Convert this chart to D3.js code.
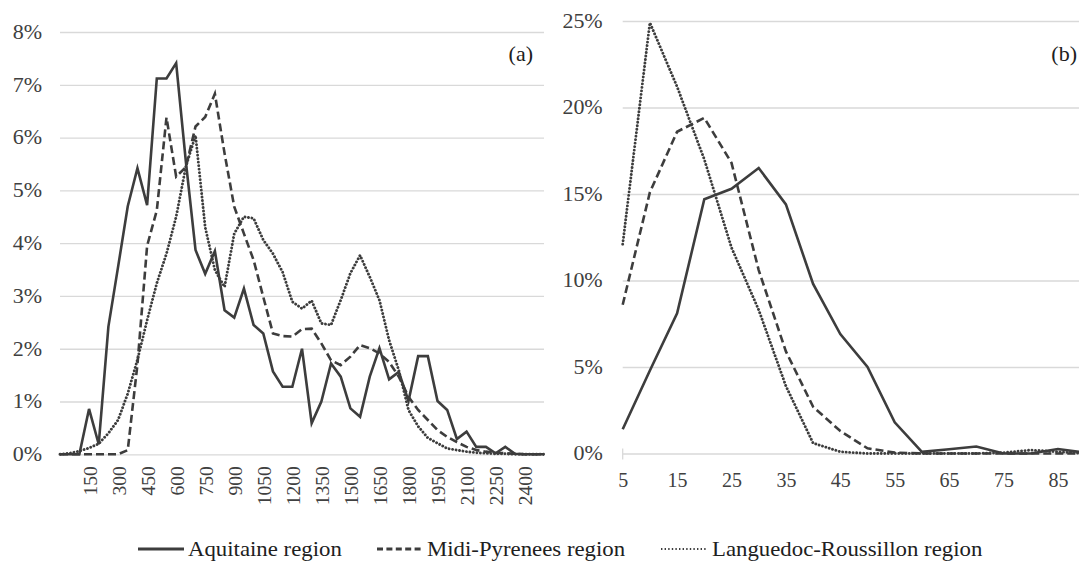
<!DOCTYPE html>
<html>
<head>
<meta charset="utf-8">
<script src="https://cdn.jsdelivr.net/npm/d3@7"></script>
<style>
  body { margin: 0; background: #fff; }
  svg { display: block; }
</style>
</head>
<body>
<svg id="chart" width="1079" height="563"></svg>
<script>
// ---- panel (a): distribution by category (step 50)
var catsA = [0, 50, 100, 150, 200, 250, 300, 350, 400, 450, 500, 550, 600, 650, 700, 750, 800, 850, 900, 950,
  1000, 1050, 1100, 1150, 1200, 1250, 1300, 1350, 1400, 1450, 1500, 1550, 1600, 1650, 1700, 1750, 1800, 1850,
  1900, 1950, 2000, 2050, 2100, 2150, 2200, 2250, 2300, 2350, 2400, 2450, 2500];
var ticksA = [150, 300, 450, 600, 750, 900, 1050, 1200, 1350, 1500, 1650, 1800, 1950, 2100, 2250, 2400];
var yTicksA = [0, 0.01, 0.02, 0.03, 0.04, 0.05, 0.06, 0.07, 0.08];

var aquitaineA = [0, 0, 0, 0.86, 0.19, 2.42, 3.55, 4.7, 5.42, 4.72, 7.12, 7.12, 7.41, 5.55, 3.87, 3.42, 3.85,
  2.73, 2.59, 3.14, 2.45, 2.29, 1.57, 1.28, 1.28, 2.0, 0.59, 1.0, 1.72, 1.47, 0.87, 0.71, 1.47, 2.01, 1.42,
  1.56, 1.01, 1.86, 1.86, 1.01, 0.84, 0.29, 0.43, 0.14, 0.14, 0.02, 0.14, 0.01, 0, 0, 0];
var midiA = [0, 0, 0, 0, 0, 0, 0, 0.08, 1.7, 3.95, 4.62, 6.38, 5.26, 5.44, 6.21, 6.39, 6.83, 5.7, 4.69, 4.18,
  3.68, 2.98, 2.29, 2.24, 2.23, 2.37, 2.38, 2.1, 1.78, 1.69, 1.85, 2.07, 2.01, 1.91, 1.75, 1.47, 1.09, 0.84,
  0.65, 0.46, 0.33, 0.23, 0.14, 0.08, 0.05, 0.03, 0.02, 0.01, 0, 0, 0];
var languedocA = [0, 0.02, 0.06, 0.12, 0.2, 0.4, 0.65, 1.15, 1.79, 2.54, 3.24, 3.8, 4.5, 5.45, 6.04, 4.3, 3.49,
  3.17, 4.18, 4.5, 4.47, 4.06, 3.8, 3.45, 2.89, 2.76, 2.91, 2.48, 2.45, 2.92, 3.43, 3.77, 3.36, 2.92, 2.16,
  1.59, 0.84, 0.53, 0.31, 0.21, 0.11, 0.08, 0.05, 0.03, 0.02, 0.01, 0.01, 0, 0, 0, 0];

// ---- panel (b): distribution by category (step 5)
var catsB = [5, 10, 15, 20, 25, 30, 35, 40, 45, 50, 55, 60, 65, 70, 75, 80, 85, 90];
var ticksB = [5, 15, 25, 35, 45, 55, 65, 75, 85];
var yTicksB = [0, 0.05, 0.10, 0.15, 0.20, 0.25];

var aquitaineB = [1.4, 4.8, 8.1, 14.7, 15.3, 16.5, 14.4, 9.8, 6.9, 5.0, 1.8, 0.1, 0.25, 0.4, 0, 0, 0.26, 0.05];
var midiB = [8.6, 15.1, 18.6, 19.4, 16.8, 10.6, 5.9, 2.7, 1.3, 0.3, 0.05, 0, 0, 0, 0, 0, 0, 0];
var languedocB = [12.1, 24.9, 21.2, 17.0, 11.9, 8.3, 3.9, 0.6, 0.1, 0, 0, 0, 0, 0, 0.05, 0.2, 0.1, 0];

var seriesNames = ["Aquitaine region", "Midi-Pyrenees region", "Languedoc-Roussillon region"];

var ink = "#3d3d3d";
var FONT = "Liberation Serif";
var styles = [
  {dash: null, width: 2.6, cap: "butt"},
  {dash: "8,4", width: 2.6, cap: "butt"},
  {dash: "0.01,3.5", width: 2.9, cap: "round"}
];

var svg = d3.select("#chart");
svg.append("rect").attr("width", 1079).attr("height", 563).attr("fill", "#fff");

/***********************************************************************************************************/

function drawPanel(p){
  var g = svg.append("g");

  // gridlines
  g.append("g")
    .attr("transform", "translate(" + p.x.range()[0] + ",0)")
    .call(d3.axisLeft(p.y).tickValues(p.yTicks).tickSize(-(p.gridRight - p.x.range()[0])).tickFormat(""))
    .call(function(a){ a.select(".domain").remove(); })
    .selectAll("line").attr("stroke", "#d9d9d9").attr("stroke-width", 1.3);

  // y labels
  g.append("g")
    .attr("transform", "translate(" + p.x.range()[0] + ",0)")
    .call(d3.axisLeft(p.y).tickValues(p.yTicks).tickSize(0).tickFormat(d3.format(".0%")))
    .attr("font-family", FONT)
    .call(function(a){ a.select(".domain").remove(); })
    .selectAll("text")
    .attr("x", null)
    .attr("transform", "translate(" + (-p.yLabelGap) + ",0) scale(1.1,1)")
    .attr("font-family", FONT)
    .attr("font-size", 20).attr("fill", "#404040");

  // series
  var line = d3.line()
    .x(function(d){ return p.x(d.c); })
    .y(function(d){ return p.y(d.v / 100); });

  p.series.forEach(function(s, k){
    var pts = s.map(function(v, i){ return {c: p.cats[i], v: v}; });
    g.append("path")
      .datum(pts)
      .attr("d", line)
      .attr("fill", "none")
      .attr("stroke", ink)
      .attr("stroke-width", styles[k].width)
      .attr("stroke-dasharray", styles[k].dash)
      .attr("stroke-linecap", styles[k].cap)
      .attr("stroke-linejoin", "miter");
  });

  // panel tag
  g.append("text")
    .attr("transform", "translate(" + p.tagX + ",61) scale(1.1,1)")
    .attr("text-anchor", "end")
    .attr("font-size", 20)
    .attr("font-family", FONT)
    .attr("fill", "#202020")
    .text(p.tag);

  return g;
}

/***********************************************************************************************************/

var xA = d3.scalePoint().domain(catsA).range([60, 544]);
var yA = d3.scaleLinear().domain([0, 0.08]).range([454.3, 32]);

var gA = drawPanel({x: xA, y: yA, cats: catsA, yTicks: yTicksA, gridRight: 544, yLabelGap: 18,
  series: [aquitaineA, midiA, languedocA], tag: "(a)", tagX: 533});

gA.append("g")
  .attr("transform", "translate(0," + yA(0) + ")")
  .call(d3.axisBottom(xA).tickValues(ticksA).tickSize(0).tickFormat(d3.format("d")))
  .attr("font-family", FONT)
  .call(function(a){ a.select(".domain").remove(); })
  .selectAll("text")
  .attr("transform", "rotate(-90)")
  .attr("x", -12).attr("y", 0).attr("dy", "0.36em")
  .attr("text-anchor", "end")
  .attr("font-family", FONT)
  .attr("font-size", 19.5).attr("fill", "#404040");

var xB = d3.scalePoint().domain(catsB).range([622.7, 622.7 + 27.2 * (catsB.length - 1)]);
var yB = d3.scaleLinear().domain([0, 0.25]).range([453.5, 21]);

var gB = drawPanel({x: xB, y: yB, cats: catsB, yTicks: yTicksB, gridRight: 1079, yLabelGap: 20,
  series: [aquitaineB, midiB, languedocB], tag: "(b)", tagX: 1077});

gB.append("g")
  .attr("transform", "translate(0," + yB(0) + ")")
  .call(d3.axisBottom(xB).tickValues(ticksB).tickSize(0).tickPadding(19))
  .attr("font-family", FONT)
  .call(function(a){ a.select(".domain").remove(); })
  .selectAll("text")
  .attr("font-family", FONT)
  .attr("font-size", 20).attr("fill", "#404040");

// small tick at the start of the (b) category axis
gB.append("line")
  .attr("x1", xB(catsB[0])).attr("x2", xB(catsB[0]))
  .attr("y1", yB(0) - 5).attr("y2", yB(0) + 6)
  .attr("stroke", "#d9d9d9").attr("stroke-width", 1.3);

/***********************************************************************************************************/
// legend

var legendItems = [
  {x1: 138, x2: 184, tx: 188},
  {x1: 377, x2: 423, tx: 427},
  {x1: 661, x2: 707, tx: 712}
];
var legendDash = [null, "6,3.4", "1.4,2.2"];
var legendY = 549;

var lg = svg.append("g");
legendItems.forEach(function(it, k){
  lg.append("line")
    .attr("x1", it.x1).attr("x2", it.x2)
    .attr("y1", legendY).attr("y2", legendY)
    .attr("stroke", ink)
    .attr("stroke-width", k === 2 ? 2 : 2.8)
    .attr("stroke-dasharray", legendDash[k]);
  lg.append("text")
    .attr("transform", "translate(" + it.tx + "," + (legendY + 7) + ") scale(1.14,1)")
    .attr("font-family", FONT)
    .attr("font-size", 20)
    .attr("fill", "#202020")
    .text(seriesNames[k]);
});
</script>
</body>
</html>
